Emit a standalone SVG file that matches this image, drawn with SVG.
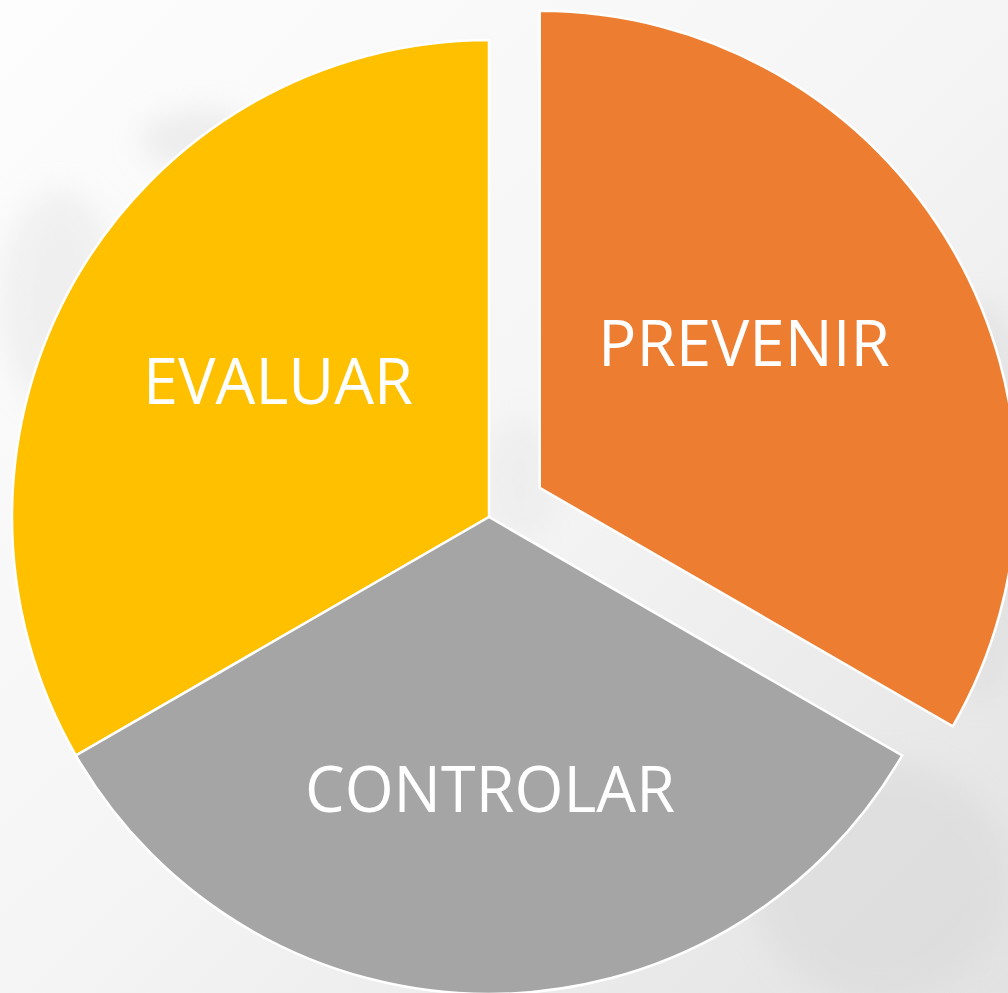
<svg xmlns="http://www.w3.org/2000/svg" width="1008" height="993" viewBox="0 0 1008 993">
  <defs>
    <linearGradient id="bg" x1="0" y1="0" x2="1" y2="1">
      <stop offset="0" stop-color="#fdfdfd"/>
      <stop offset="0.5" stop-color="#f5f5f5"/>
      <stop offset="1" stop-color="#e2e2e2"/>
    </linearGradient>
    <filter id="blur" x="-50%" y="-50%" width="200%" height="200%">
      <feGaussianBlur stdDeviation="14"/>
    </filter>
    <style>
      .seg { stroke: #ffffff; stroke-width: 2.5; stroke-linejoin: miter; }
      .lbl { font-family: "Open Sans", "Liberation Sans", sans-serif; font-size: 64px; fill: #ffffff; text-anchor: middle; }
    </style>
  </defs>
  <rect width="1008" height="993" fill="url(#bg)"/>
  <g id="background-photo" filter="url(#blur)" opacity="0.5">
    <ellipse cx="200" cy="140" rx="60" ry="30" fill="#e0e0e0"/>
    <ellipse cx="60" cy="300" rx="60" ry="110" fill="#e6e6e6"/>
    <ellipse cx="880" cy="880" rx="130" ry="120" fill="#d8d8d8"/>
    <ellipse cx="980" cy="500" rx="60" ry="200" fill="#dcdcdc"/>
    <ellipse cx="520" cy="480" rx="40" ry="60" fill="#e8e8e8"/>
  </g>
  <g id="connectors"/>
  <g id="node-evaluar">
    <path class="seg" fill="#FFC000" d="M 489 517 L 489 40 A 477 477 0 0 0 75.9 755.5 Z"/>
    <text class="lbl" x="278" y="404" textLength="270" lengthAdjust="spacingAndGlyphs">EVALUAR</text>
  </g>
  <g id="node-controlar">
    <path class="seg" fill="#A5A5A5" d="M 489 517 L 75.9 755.5 A 477 477 0 0 0 902.1 755.5 Z"/>
    <text class="lbl" x="490" y="812" textLength="370" lengthAdjust="spacingAndGlyphs">CONTROLAR</text>
  </g>
  <g id="node-prevenir">
    <path class="seg" fill="#ED7D31" d="M 539.7 487.8 L 539.7 10.8 A 477 477 0 0 1 952.8 726.3 Z"/>
    <text class="lbl" x="744" y="366" textLength="292" lengthAdjust="spacingAndGlyphs">PREVENIR</text>
  </g>
</svg>
